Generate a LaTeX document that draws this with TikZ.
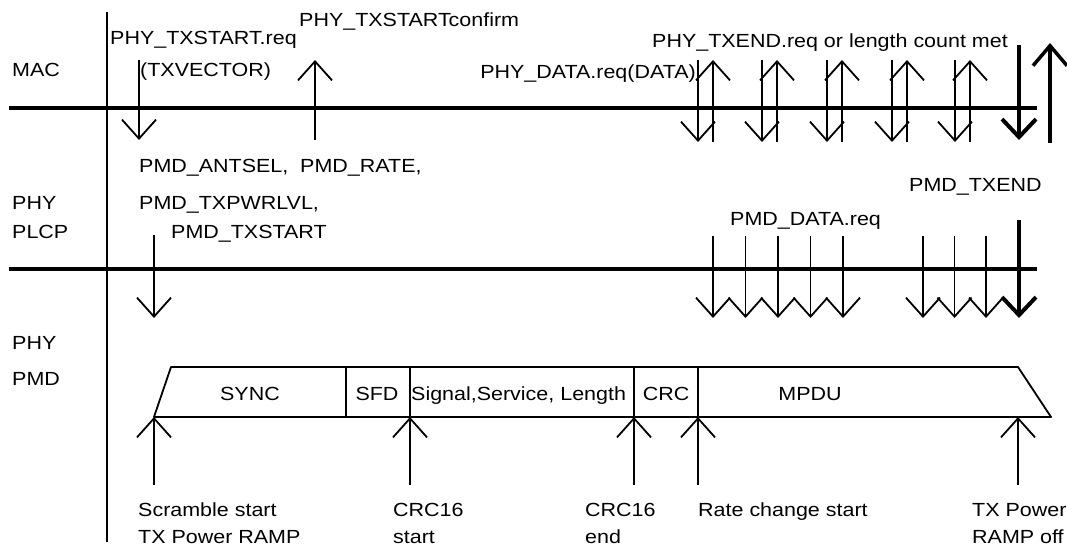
\documentclass[tikz,border=0pt]{standalone}
\usepackage{fontspec}
\setmainfont[FakeStretch=1.13]{Liberation Sans}
\usetikzlibrary{arrows.meta}
\begin{document}
\begin{tikzpicture}[x=1pt,y=-1pt,
  font=\fontsize{19}{22}\selectfont,
  lbl/.style={anchor=base west, inner sep=0pt},
  ctr/.style={anchor=base, inner sep=0pt},
  thinln/.style={line width=1.8pt},
  bar/.style={line width=4pt},
  sig/.style={line width=1.8pt,-{Straight Barb[length=19pt,width=34pt,line width=1.8pt]}},
  bigsig/.style={line width=4pt,-{Straight Barb[length=18pt,width=34pt,line width=4pt]}}]
\useasboundingbox (0,0) rectangle (1067,548);
% axis and layer lines
\coordinate (axT) at (107,12); \coordinate (axB) at (107,542);
\draw[thinln] (axT) -- (axB);
\coordinate (macL) at (9,108); \coordinate (macR) at (1037,108);
\coordinate (plcpL) at (9,269); \coordinate (plcpR) at (1037,269);
\draw[bar] (macL) -- (macR);
\draw[bar] (plcpL) -- (plcpR);
% layer labels
\node[lbl] (mac) at (12,77) {MAC};
\node[lbl] (phy1) at (12,209) {PHY};
\node[lbl] (plcp) at (12,238) {PLCP};
\node[lbl] (phy2) at (12,349) {PHY};
\node[lbl] (pmd) at (12,385) {PMD};
% MAC texts
\node[lbl] (treq) at (110,45) {PHY\_TXSTART.req};
\node[lbl] (tvec) at (140,77) {(TXVECTOR)};
\node[lbl] (tconf) at (299,27) {PHY\_TXSTARTconfirm};
\node[anchor=base east, inner sep=0pt] (tdata) at (696,79) {PHY\_DATA.req(DATA)};
\node[lbl] (tend) at (652,48) {PHY\_TXEND.req or length count met};
% PLCP texts
\node[lbl] (p1) at (139,173) {PMD\_ANTSEL,\ \ PMD\_RATE,};
\node[lbl] (p2) at (139,209) {PMD\_TXPWRLVL,};
\node[lbl] (p3) at (171,238) {PMD\_TXSTART};
\node[lbl] (pdata) at (730,225) {PMD\_DATA.req};
\node[lbl] (pend) at (909,192) {PMD\_TXEND};
% MAC arrows
\coordinate (reqA) at (139,60); \coordinate (reqB) at (139,140);
\draw[sig] (reqA) -- (reqB);
\coordinate (cfA) at (315,140); \coordinate (cfB) at (315,60);
\draw[sig] (cfA) -- (cfB);
\foreach \x [count=\i] in {698,762,827,892,955}{
  \coordinate (dA\i) at (\x,60); \coordinate (dB\i) at (\x,142);
  \coordinate (uA\i) at (\x+15,142); \coordinate (uB\i) at (\x+15,60);
  \draw[sig] (dA\i) -- (dB\i);
  \draw[sig] (uA\i) -- (uB\i);
}
\coordinate (edA) at (1019,45); \coordinate (edB) at (1019,140);
\draw[bigsig] (edA) -- (edB);
\coordinate (euA) at (1050,143); \coordinate (euB) at (1050,43);
\draw[line width=3.5pt,-{Straight Barb[length=20pt,width=34pt,line width=3.5pt]}] (euA) -- (euB);
% PLCP arrows
\coordinate (psA) at (154,235); \coordinate (psB) at (154,318);
\draw[sig] (psA) -- (psB);
\foreach \x [count=\i] in {713,745.5,778,810.5,843,923,954.5,986}{
  \coordinate (pA\i) at (\x,236); \coordinate (pB\i) at (\x,318);
  \draw[sig] (pA\i) -- (pB\i);
}
\coordinate (peA) at (1019,220); \coordinate (peB) at (1019,318);
\draw[bigsig] (peA) -- (peB);
% PMD frame
\coordinate (f1) at (154,417); \coordinate (f2) at (171,367);
\coordinate (f3) at (1018,367); \coordinate (f4) at (1051,417);
\draw[thinln, line join=round] (f1) -- (f2) -- (f3) -- (f4) -- cycle;
\foreach \x in {346,410,634,698}{
  \draw[thinln] (\x,367) -- (\x,417);
}
\node[ctr] (sync) at (250,400) {SYNC};
\node[ctr] (sfd) at (377,400) {SFD};
\node[lbl] (sig) at (411,400) {Signal,Service, Length};
\node[ctr] (crc) at (666,400) {CRC};
\node[ctr] (mpdu) at (810,400) {MPDU};
% bottom arrows
\foreach \x [count=\i] in {154,410,634,698,1018}{
  \coordinate (bA\i) at (\x,485); \coordinate (bB\i) at (\x,417);
  \draw[sig] (bA\i) -- (bB\i);
}
% bottom labels
\node[lbl] (b1a) at (138,516) {Scramble start};
\node[lbl] (b1b) at (138,543) {TX Power RAMP};
\node[lbl] (b2a) at (393,516) {CRC16};
\node[lbl] (b2b) at (393,543) {start};
\node[lbl] (b3a) at (585,516) {CRC16};
\node[lbl] (b3b) at (585,543) {end};
\node[lbl] (b4a) at (698,516) {Rate change start};
\node[lbl] (b5a) at (972,516) {TX Power};
\node[lbl] (b5b) at (972,543) {RAMP off};
\end{tikzpicture}
\end{document}
